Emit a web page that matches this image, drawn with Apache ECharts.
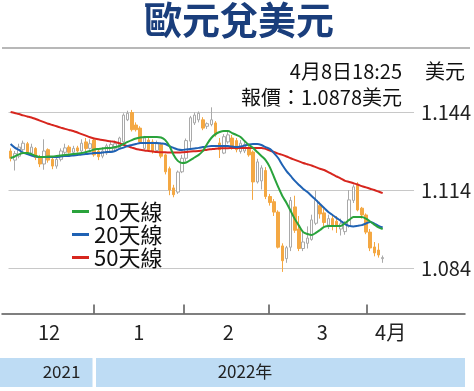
<!DOCTYPE html>
<html>
<head>
<meta charset="utf-8">
<script src="https://cdn.jsdelivr.net/npm/echarts@6/dist/echarts.min.js"></script>
<style>
html,body{margin:0;padding:0;background:#fff;}
#chart{width:474px;height:391px;}
</style>
</head>
<body>
<div id="chart"></div>
<script>
// 月份 / 每月交易日數
var monthNames = ['12', '1', '2', '3', '4月'];
var monthDays = [20, 21, 20, 23, 6];
var labelDay = [9, 30, 51, 73, 89];   // 月份標籤所在的交易日
var yTicks = [1.084, 1.114, 1.144];

// 日K: 開 收 低 高
var opens = [
  1.1290,1.1255,1.1270,1.1295,1.1318,1.1282,1.1300,1.1268,1.1240,1.1295,
  1.1258,1.1232,1.1258,1.1285,1.1305,1.1285,1.1302,1.1290,1.1325,1.1300,
  1.1332,1.1290,1.1270,1.1282,1.1290,1.1300,1.1302,1.1325,1.1410,1.1438,
  1.1390,1.1378,1.1300,1.1332,1.1325,1.1292,1.1315,1.1275,1.1222,1.1148,1.1132,
  1.1210,1.1262,1.1328,1.1398,1.1410,1.1410,1.1385,1.1392,1.1398,1.1321,
  1.1282,1.1325,1.1340,1.1330,1.1288,1.1290,1.1302,1.1286,1.1171,1.1175,
  1.1215,1.1115,1.1095,1.1055,1.0925,1.0876,1.0920,1.1075,1.0990,1.0915,
  1.0935,1.0950,1.1012,1.1080,1.1052,1.1005,1.1030,1.1020,1.0990,1.0980,
  1.1002,1.1100,1.1160,
  1.1070,1.1044,1.0978,1.0921,1.0909,1.0876
];
var closes = [
  1.1262,1.1280,1.1305,1.1320,1.1285,1.1305,1.1265,1.1240,1.1290,1.1255,
  1.1232,1.1258,1.1290,1.1302,1.1285,1.1300,1.1290,1.1320,1.1300,1.1318,
  1.1275,1.1268,1.1290,1.1310,1.1315,1.1318,1.1340,1.1428,1.1435,1.1372,
  1.1372,1.1325,1.1340,1.1295,1.1290,1.1318,1.1270,1.1210,1.1140,1.1122,1.1209,
  1.1262,1.1330,1.1418,1.1428,1.1435,1.1378,1.1395,1.1410,1.1352,1.1295,
  1.1345,1.1352,1.1302,1.1295,1.1320,1.1315,1.1275,1.1171,1.1248,1.1225,
  1.1115,1.1092,1.1055,1.0920,1.0868,1.0918,1.1100,1.0985,1.0915,1.0940,
  1.0955,1.1025,1.1100,1.1048,1.1015,1.1030,1.1005,1.1000,1.1010,1.1012,
  1.1102,1.1152,1.1063,
  1.1044,1.0978,1.0917,1.0898,1.0890,1.0880
];
var lows = [
  1.1250,1.1215,1.1262,1.1290,1.1278,1.1270,1.1255,1.1228,1.1218,1.1245,
  1.1220,1.1222,1.1250,1.1278,1.1280,1.1278,1.1285,1.1285,1.1290,1.1295,
  1.1268,1.1255,1.1262,1.1275,1.1285,1.1290,1.1298,1.1320,1.1405,1.1365,
  1.1365,1.1318,1.1295,1.1288,1.1280,1.1285,1.1262,1.1200,1.1120,1.1112,1.1125,
  1.1205,1.1250,1.1300,1.1390,1.1400,1.1370,1.1375,1.1385,1.1345,1.1263,
  1.1278,1.1318,1.1295,1.1285,1.1280,1.1282,1.1268,1.1102,1.1165,1.1142,
  1.1105,1.1080,1.1040,1.0915,1.0825,1.0860,1.0905,1.0975,1.0905,1.0905,
  1.0915,1.0945,1.1005,1.1030,1.1000,1.0990,1.0985,1.0975,1.0965,1.0968,
  1.0995,1.1090,1.1058,
  1.1030,1.0970,1.0905,1.0885,1.0880,1.0860
];
var highs = [
  1.1300,1.1290,1.1318,1.1330,1.1325,1.1318,1.1305,1.1275,1.1335,1.1300,
  1.1265,1.1265,1.1300,1.1318,1.1312,1.1310,1.1310,1.1335,1.1340,1.1335,
  1.1340,1.1300,1.1305,1.1318,1.1330,1.1330,1.1345,1.1435,1.1445,1.1448,
  1.1400,1.1385,1.1348,1.1345,1.1335,1.1330,1.1322,1.1280,1.1230,1.1160,1.1215,
  1.1275,1.1338,1.1425,1.1438,1.1442,1.1420,1.1400,1.1458,1.1405,1.1340,
  1.1355,1.1365,1.1352,1.1340,1.1332,1.1330,1.1310,1.1292,1.1260,1.1235,
  1.1228,1.1125,1.1105,1.1062,1.0935,1.0925,1.1113,1.1118,1.1040,1.0985,
  1.1000,1.1045,1.1138,1.1095,1.1068,1.1045,1.1040,1.1040,1.1030,1.1020,
  1.1140,1.1160,1.1170,
  1.1075,1.1050,1.0990,1.0940,1.0935,1.0888
];

// 移動平均線
var ma10 = [
  1.1263,1.1269,1.1277,1.1282,1.1282,1.1278,1.1271,1.1267,1.1267,1.1269,
  1.1269,1.1271,1.1273,1.1275,1.1277,1.1278,1.1280,1.1282,1.1286,1.1290,
  1.1296,1.1298,1.1300,1.1302,1.1302,1.1305,1.1309,1.1317,1.1325,1.1332,
  1.1338,1.1342,1.1344,1.1344,1.1344,1.1344,1.1342,1.1332,1.1309,1.1275,1.1252,
  1.1244,1.1246,1.1255,1.1265,1.1275,1.1290,1.1317,1.1340,1.1355,1.1363,
  1.1367,1.1367,1.1359,1.1352,1.1344,1.1328,1.1313,1.1302,1.1286,1.1271,
  1.1255,1.1228,1.1190,1.1152,1.1117,1.1090,1.1059,1.1028,1.1002,1.0978,
  1.0971,1.0967,1.0975,1.0986,1.0998,1.1002,1.1002,1.1002,1.1002,1.1013,
  1.1025,1.1036,1.1036,
  1.1036,1.1030,1.1019,1.1007,1.0996,1.0990
];
var ma20 = [
  1.1317,1.1303,1.1294,1.1284,1.1278,1.1273,1.1269,1.1267,1.1267,1.1267,
  1.1267,1.1267,1.1269,1.1271,1.1271,1.1273,1.1275,1.1277,1.1278,1.1280,
  1.1282,1.1282,1.1284,1.1286,1.1286,1.1290,1.1298,1.1303,1.1309,1.1313,
  1.1317,1.1321,1.1321,1.1321,1.1321,1.1321,1.1319,1.1317,1.1309,1.1302,1.1296,
  1.1294,1.1296,1.1298,1.1300,1.1302,1.1305,1.1307,1.1309,1.1309,1.1309,
  1.1309,1.1309,1.1307,1.1305,1.1307,1.1311,1.1315,1.1317,1.1317,1.1313,
  1.1305,1.1298,1.1282,1.1263,1.1236,1.1213,1.1194,1.1175,1.1159,1.1144,
  1.1132,1.1117,1.1102,1.1086,1.1071,1.1055,1.1044,1.1032,1.1021,1.1009,
  1.1002,1.1000,1.1002,
  1.1005,1.1011,1.1017,1.1011,1.1002,1.0996
];
var ma50 = [
  1.1440,1.1436,1.1432,1.1427,1.1423,1.1419,1.1413,1.1407,1.1401,1.1395,
  1.1390,1.1385,1.1380,1.1375,1.1371,1.1367,1.1361,1.1355,1.1349,1.1343,
  1.1338,1.1335,1.1332,1.1329,1.1327,1.1325,1.1320,1.1314,1.1308,1.1303,
  1.1298,1.1295,1.1292,1.1290,1.1288,1.1286,1.1285,1.1285,1.1284,1.1284,1.1284,
  1.1285,1.1286,1.1288,1.1289,1.1290,1.1292,1.1295,1.1297,1.1299,1.1300,
  1.1301,1.1301,1.1302,1.1302,1.1302,1.1302,1.1302,1.1302,1.1302,1.1302,
  1.1298,1.1292,1.1286,1.1280,1.1275,1.1269,1.1262,1.1256,1.1250,1.1244,
  1.1239,1.1234,1.1228,1.1222,1.1217,1.1209,1.1200,1.1192,1.1184,1.1175,
  1.1171,1.1166,1.1161,
  1.1155,1.1150,1.1145,1.1140,1.1134,1.1128
];

var NARROW = "'Liberation Sans Narrow','Noto Sans CJK TC',sans-serif";
var BAND = 4.27, LEFT0 = 8.5, PAD_RIGHT = 7;
var AXIS_X0 = 2, AXIS_X1 = 465;   // 底部月份軸的起訖

// x軸類目
var days = [];
var monthStart = [];
for (var m = 0; m < monthNames.length; m++) {
	monthStart.push(days.length);
	for (var i = 1; i <= monthDays[m]; i++) days.push(monthNames[m] + '/' + i);
}
var cats0 = days.slice();
for (var p = 0; p < PAD_RIGHT; p++) cats0.push('');

// 底部月份軸 (以交易日為單位的數值軸, 與上方K線對齊)
var tickPos = monthStart.slice(1);
var labelPos = labelDay.map(function (d) { return d + 0.5; });

var candleData = [];
for (var n = 0; n < opens.length; n++) {
	candleData.push([opens[n], closes[n], lows[n], highs[n]]);
}

var charts = echarts.init(document.getElementById('chart'));
var option = {
	animation: false,
	grid: [
		{left: LEFT0, top: 112, width: BAND * cats0.length, height: 156},
		{left: AXIS_X0, top: 300, width: AXIS_X1 - AXIS_X0, height: 13.5}
	],
	legend: {
		orient: 'vertical',
		left: 72, top: 200, padding: 0,
		icon: 'rect', itemWidth: 17, itemHeight: 3, itemGap: 0,
		textStyle: {fontFamily: NARROW, fontSize: 22, lineHeight: 23, color: '#111'},
		data: ['10天線', '20天線', '50天線']
	},
	xAxis: [{
		type: 'category', gridIndex: 0, data: cats0,
		axisLine: {show: false}, axisTick: {show: false},
		axisLabel: {show: false}, splitLine: {show: false}
	}, {
		type: 'value', gridIndex: 1, position: 'bottom',
		min: (AXIS_X0 - LEFT0) / BAND, max: (AXIS_X1 - LEFT0) / BAND,
		splitLine: {show: false},
		axisLine: {onZero: false, lineStyle: {color: '#555', width: 1.5}},
		axisTick: {
			inside: true, length: 9, customValues: tickPos,
			lineStyle: {color: '#555', width: 1.5}
		},
		axisLabel: {
			customValues: labelPos, margin: 9,
			fontFamily: NARROW, fontSize: 20, color: '#222',
			formatter: function (v) {
				var idx = labelPos.indexOf(v);
				return idx >= 0 ? monthNames[idx] : '';
			}
		}
	}],
	yAxis: [{
		type: 'value', gridIndex: 0, position: 'right',
		min: yTicks[0], max: yTicks[2], interval: 0.03,
		axisLine: {show: false}, axisTick: {show: false},
		axisLabel: {
			margin: 7, fontFamily: NARROW, fontSize: 20, color: '#222',
			formatter: function (v) { return v.toFixed(3); }
		},
		splitLine: {lineStyle: {color: '#c8c8c8', width: 1}}
	}, {
		type: 'value', gridIndex: 1, show: false
	}],
	series: [{
		name: 'K', type: 'candlestick', xAxisIndex: 0, yAxisIndex: 0,
		data: candleData, barWidth: 3,
		itemStyle: {
			color: '#ffffff', color0: '#f4a843',
			borderColor: '#a9a9a9', borderColor0: '#f4a843', borderWidth: 1
		}
	}, {
		name: '50天線', type: 'line', data: ma50, showSymbol: false, smooth: 0.3, z: 3,
		itemStyle: {color: '#d7261e'}, lineStyle: {color: '#d7261e', width: 2}
	}, {
		name: '20天線', type: 'line', data: ma20, showSymbol: false, smooth: 0.3, z: 4,
		itemStyle: {color: '#1f62b4'}, lineStyle: {color: '#1f62b4', width: 2}
	}, {
		name: '10天線', type: 'line', data: ma10, showSymbol: false, smooth: 0.3, z: 5,
		itemStyle: {color: '#2aa33c'}, lineStyle: {color: '#2aa33c', width: 2}
	}],
	graphic: [
		{type: 'text', x: 239, y: 20, style: {text: '歐元兌美元', fontFamily: "'Noto Sans CJK TC'", fontWeight: 'bold', fontSize: 38, fill: '#1a3e7c', align: 'center', verticalAlign: 'middle'}},
		{type: 'line', shape: {x1: 2, y1: 48, x2: 470, y2: 48}, style: {stroke: '#a0a0a0', lineWidth: 1.5}},
		{type: 'text', x: 402, y: 71, style: {text: '4月8日18:25', fontFamily: NARROW, fontSize: 20, fill: '#111', align: 'right', verticalAlign: 'middle'}},
		{type: 'text', x: 425, y: 71, style: {text: '美元', fontFamily: NARROW, fontSize: 20, fill: '#111', align: 'left', verticalAlign: 'middle'}},
		{type: 'text', x: 402, y: 97, style: {text: '報價：1.0878美元', fontFamily: NARROW, fontSize: 20, fill: '#111', align: 'right', verticalAlign: 'middle'}},
		{type: 'rect', shape: {x: 0, y: 358, width: 92.5, height: 29}, style: {fill: '#bedcf4'}},
		{type: 'rect', shape: {x: 96, y: 358, width: 369, height: 29}, style: {fill: '#bedcf4'}},
		{type: 'text', x: 61.5, y: 372, style: {text: '2021', fontFamily: NARROW, fontSize: 17, fill: '#222', align: 'center', verticalAlign: 'middle'}},
		{type: 'text', x: 245, y: 372, style: {text: '2022年', fontFamily: NARROW, fontSize: 17, fill: '#222', align: 'center', verticalAlign: 'middle'}}
	]
};
charts.setOption(option);
</script>
</body>
</html>
